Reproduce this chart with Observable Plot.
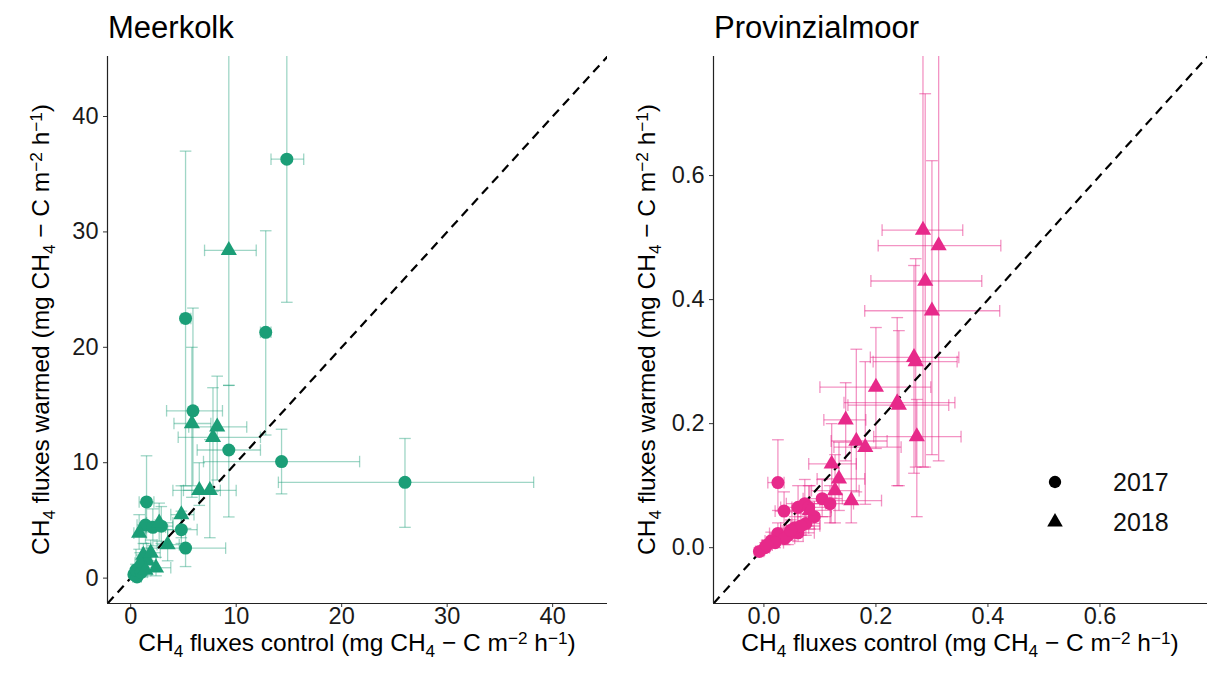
<!DOCTYPE html>
<html>
<head>
<meta charset="utf-8">
<script src="https://cdn.jsdelivr.net/npm/d3@7"></script>
<script src="https://cdn.jsdelivr.net/npm/@observablehq/plot@0.6"></script>
<style>
  html, body { margin: 0; padding: 0; background: #fff; }
  #fig { position: relative; width: 1209px; height: 681px; font-family: "Liberation Sans", Arial, sans-serif; }
  #fig svg { position: absolute; top: 0; overflow: visible; }
</style>
</head>
<body>
<div id="fig"></div>
<script>
// ---------------- Meerkolk (mg CH4-C m-2 h-1) ----------------
const mkYear    = [2017,2018,2017,2017,2017,2017,2017,2017,2018,2018,2018,2018,2018,2017,2017,2017,2017,2018,2018,2018,2017,2017,2018,2018,2018,2018,2018,2018,2017,2017,2017,2018,2017];
const mkCtrl    = [14.8, 9.3, 5.2,12.8,26.0,14.3, 9.3, 5.9, 5.8, 8.2, 7.8, 6.5, 7.5, 1.5, 1.4, 2.1, 2.9, 2.7, 0.8, 4.8, 4.8, 5.2, 3.5, 2.4, 1.2, 1.6, 0.9, 1.9, 0.3, 0.6, 0.5, 1.4, 1.0];
const mkCtrlLo  = [13.3, 7.0, 4.8,12.3,14.0, 6.9, 6.3, 3.4, 4.1, 5.5, 4.5, 4.0, 5.0, 0.8, 0.6, 1.2, 2.0, 1.5, 0.3, 3.8, 3.5, 1.5, 2.5, 1.3, 0.5, 0.9, 0.4, 1.1, 0.1, 0.2, 0.2, 0.8, 0.4];
const mkCtrlHi  = [16.4,11.9, 5.7,13.3,38.2,21.7,12.3, 8.7, 7.6,11.0,12.3, 8.5,10.0, 2.2, 2.3, 3.3, 4.0, 4.0, 1.5, 6.0, 6.3, 9.0, 4.6, 3.8, 2.0, 2.4, 1.5, 2.8, 0.6, 1.0, 0.9, 2.0, 1.6];
const mkWarm    = [36.3,28.4,22.5,21.3, 8.3,10.1,11.1,14.5,13.4,13.1,12.2, 7.6, 7.6, 6.6, 4.6, 4.4, 4.5, 4.8, 3.9, 5.5, 4.2, 2.6, 2.9, 0.9, 2.0, 1.5, 1.3, 2.2, 0.3, 0.1, 0.7, 0.7, 0.5];
const mkWarmLo  = [23.9,16.7, 8.0,12.4, 4.4, 7.3, 5.3, 8.0, 7.0, 8.5, 7.5, 6.3, 3.5, 4.0, 3.0, 2.8, 3.0, 3.2, 2.5, 3.5, 3.0, 1.0, 1.5, 0.2, 1.0, 0.6, 0.6, 1.2, 0.1, 0.0, 0.3, 0.2, 0.1];
const mkWarmHi  = [52.0,50.0,37.0,30.1,12.1,12.9,16.7,23.4,20.0,17.5,16.5,10.0,12.0,10.6, 6.5, 6.0, 6.2, 6.5, 5.5, 8.0, 5.8, 4.3, 4.2, 1.8, 3.0, 2.6, 2.2, 3.3, 0.6, 0.4, 1.2, 1.3, 1.0];

// ---------------- Provinzialmoor ----------------
const pmYear    = [2018,2018,2018,2018,2018,2018,2018,2018,2018,2018,2018,2018,2018,2018,2018,2018,2018,2018,
                   2017,2017,2017,2017,2017,2017,2017,2017,2017,2017,2017,2017,2017,2017,2017,2017,2017,2017,2017,2017,2017];
const pmCtrl    = [0.284,0.312,0.288,0.300,0.268,0.271,0.200,0.238,0.241,0.146,0.273,0.165,0.181,0.121,0.134,0.127,0.156,0.082,
                   0.025,0.036,0.104,0.118,0.061,0.073,0.080,0.075,0.061,0.055,0.043,0.025,0.037,0.013,0.002,-0.008,0.020,0.066,0.005,0.048,0.090];
const pmCtrlLo  = [0.211,0.204,0.191,0.180,0.190,0.195,0.100,0.143,0.150,0.107,0.196,0.120,0.125,0.080,0.095,0.085,0.100,0.050,
                   0.007,0.020,0.070,0.080,0.030,0.040,0.050,0.050,0.040,0.030,0.020,0.010,0.020,0.002,-0.005,-0.015,0.008,0.040,-0.003,0.030,0.060];
const pmCtrlHi  = [0.355,0.423,0.389,0.421,0.348,0.345,0.298,0.341,0.330,0.182,0.352,0.220,0.245,0.165,0.180,0.170,0.210,0.120,
                   0.036,0.055,0.140,0.160,0.090,0.110,0.120,0.100,0.090,0.080,0.070,0.045,0.055,0.025,0.010,0.000,0.035,0.100,0.015,0.070,0.120];
const pmWarm    = [0.512,0.487,0.430,0.382,0.307,0.300,0.259,0.234,0.230,0.206,0.179,0.172,0.162,0.135,0.111,0.092,0.076,0.060,
                   0.105,0.059,0.079,0.071,0.065,0.071,0.065,0.039,0.024,0.032,0.020,0.023,0.015,0.011,0.000,-0.006,0.008,0.035,0.004,0.028,0.050];
const pmWarmLo  = [0.130,0.140,0.130,0.150,0.120,0.130,0.160,0.100,0.100,0.140,0.050,0.090,0.070,0.080,0.060,0.040,0.040,0.030,
                   0.060,0.030,0.050,0.040,0.030,0.040,0.035,0.020,0.010,0.015,0.005,0.010,0.005,0.000,-0.006,-0.012,0.000,0.020,-0.003,0.012,0.030];
const pmWarmHi  = [0.850,0.850,0.732,0.624,0.455,0.466,0.355,0.371,0.350,0.266,0.239,0.320,0.300,0.200,0.170,0.150,0.170,0.100,
                   0.174,0.090,0.110,0.100,0.100,0.110,0.100,0.060,0.040,0.050,0.035,0.040,0.030,0.025,0.008,0.000,0.018,0.055,0.012,0.045,0.075];

const legendYears = [2017, 2018];
const legendShapes = ["circle", "triangle"];
const titles = ["Meerkolk", "Provinzialmoor"];
const colors = ["#1b9e77", "#e7298a"];
const barOpacity = [0.42, 0.5];
const font = "'Liberation Sans', Arial, sans-serif";

function rowsOf(year, x, xlo, xhi, y, ylo, yhi) {
  return year.map((yr, i) => ({year: yr, x: x[i], xlo: xlo[i], xhi: xhi[i], y: y[i], ylo: ylo[i], yhi: yhi[i]}));
}

function addRich(svg, x, y, parts, rotate, size) {
  const t = svg.append("text")
    .attr("text-anchor", "middle")
    .attr("font-family", font)
    .attr("font-size", size)
    .attr("fill", "#000")
    .attr("transform", `translate(${x},${y})` + (rotate ? " rotate(-90)" : ""));
  let cur = 0;
  for (const [s, kind] of parts) {
    const target = kind === "sub" ? 6 : kind === "sup" ? -7 : 0;
    t.append("tspan")
      .attr("dy", target - cur)
      .attr("font-size", kind ? size * 0.7 : size)
      .text(s);
    cur = target;
  }
}

function labelParts(word) {
  return [["CH", ""], ["4", "sub"], [` fluxes ${word} (mg CH`, ""], ["4", "sub"], [" \u2212 C m", ""], ["\u22122", "sup"], [" h", ""], ["\u22121", "sup"], [")", ""]];
}

function panel({rows, domain, ticks, fmt, color, opacity, capX, capY, width, marginLeft, marginRight, title}) {
  const lo = domain[0];
  const barStyle = {stroke: color, strokeOpacity: opacity, strokeWidth: 1.3, clip: true};
  const svgNode = Plot.plot({
    width, height: 681,
    marginTop: 56, marginBottom: 78, marginLeft, marginRight,
    style: {fontFamily: font, fontSize: "23.5px", color: "#1a1a1a", background: "transparent"},
    x: {domain, ticks, tickFormat: fmt, label: null},
    y: {domain, ticks, tickFormat: fmt, label: null},
    marks: [
      // vertical error bars + caps
      Plot.link(rows, {x1: "x", x2: "x", y1: "ylo", y2: "yhi", ...barStyle}),
      Plot.link(rows, {x1: d => d.x - capX, x2: d => d.x + capX, y1: "ylo", y2: "ylo", ...barStyle}),
      Plot.link(rows, {x1: d => d.x - capX, x2: d => d.x + capX, y1: "yhi", y2: "yhi", ...barStyle}),
      // horizontal error bars + caps
      Plot.link(rows, {x1: "xlo", x2: "xhi", y1: "y", y2: "y", ...barStyle}),
      Plot.link(rows, {x1: "xlo", x2: "xlo", y1: d => d.y - capY, y2: d => d.y + capY, ...barStyle}),
      Plot.link(rows, {x1: "xhi", x2: "xhi", y1: d => d.y - capY, y2: d => d.y + capY, ...barStyle}),
      // 1:1 line
      Plot.link([domain], {x1: d => d[0], y1: d => d[0], x2: d => d[1], y2: d => d[1], stroke: "#000", strokeWidth: 2.2, strokeDasharray: "9,6", clip: true}),
      // points
      Plot.dot(rows.filter(d => d.year === 2017), {x: "x", y: "y", r: 6.5, symbol: "circle", fill: color, clip: true}),
      Plot.dot(rows.filter(d => d.year === 2018), {x: "x", y: "y", r: 6.0, symbol: "triangle", fill: color, clip: true}),
      // axes
      Plot.axisX({ticks, tickFormat: fmt, tickSize: 4, tickPadding: 0, label: null, stroke: "#333"}),
      Plot.axisY({ticks, tickFormat: fmt, tickSize: 4, tickPadding: 5, label: null, stroke: "#333"}),
      Plot.ruleX([lo], {stroke: "#222", strokeWidth: 1.2}),
      Plot.ruleY([lo], {stroke: "#222", strokeWidth: 1.2})
    ]
  });
  const svg = d3.select(svgNode);
  const cx = marginLeft + (width - marginLeft - marginRight) / 2;
  svg.append("text").attr("x", marginLeft + 1).attr("y", 38).attr("text-anchor", "start")
    .attr("font-family", font).attr("font-size", 31).attr("fill", "#000").text(title);
  addRich(svg, cx, 651, labelParts("control"), false, 24.5);
  addRich(svg, marginLeft - 58, 329.5, labelParts("warmed"), true, 24.5);
  return svgNode;
}

const fig = document.getElementById("fig");

const left = panel({
  rows: rowsOf(mkYear, mkCtrl, mkCtrlLo, mkCtrlHi, mkWarm, mkWarmLo, mkWarmHi),
  domain: [-2.2, 45.2], ticks: [0, 10, 20, 30, 40], fmt: d3.format("d"),
  color: colors[0], opacity: barOpacity[0], capX: 0.55, capY: 0.5,
  width: 608, marginLeft: 107, marginRight: 1, title: titles[0]
});
left.style.left = "0px";
fig.appendChild(left);

const right = panel({
  rows: rowsOf(pmYear, pmCtrl, pmCtrlLo, pmCtrlHi, pmWarm, pmWarmLo, pmWarmHi),
  domain: [-0.09, 0.792], ticks: [0, 0.2, 0.4, 0.6], fmt: d3.format(".1f"),
  color: colors[1], opacity: barOpacity[1], capX: 0.0105, capY: 0.0095,
  width: 601, marginLeft: 105, marginRight: 2, title: titles[1]
});
right.style.left = "608px";
fig.appendChild(right);

// legend inside right panel
const rs = d3.select(right);
const lg = rs.append("g").attr("font-family", font);
legendYears.forEach((yr, i) => {
  const cy = 482 + i * 40;
  const sym = legendShapes[i] === "circle" ? d3.symbolCircle : d3.symbolTriangle;
  lg.append("path").attr("transform", `translate(447,${cy})`)
    .attr("d", d3.symbol(sym, legendShapes[i] === "circle" ? 120 : 105)())
    .attr("fill", "#000");
  lg.append("text").attr("x", 505).attr("y", cy + 9).attr("text-anchor", "start")
    .attr("font-size", 25).attr("fill", "#111").text(yr);
});
</script>
</body>
</html>
